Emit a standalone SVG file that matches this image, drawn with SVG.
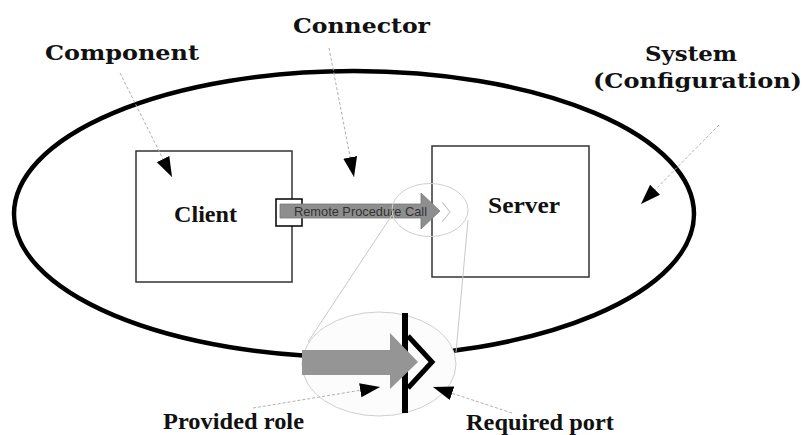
<svg xmlns="http://www.w3.org/2000/svg" width="804" height="435" viewBox="0 0 804 435">
  <style>
    .lbl { font-family: "DejaVu Serif", "Liberation Serif", serif; font-weight: bold; font-size: 21px; fill: #111; }
    .nm { font-family: "Liberation Serif", "Times New Roman", serif; font-weight: bold; font-size: 24px; fill: #111; }
    .sm { font-family: "Liberation Sans", Arial, sans-serif; font-size: 13px; fill: #333; }
    .box { fill: #fff; stroke: #333; stroke-width: 1.5; }
    .leader { fill: none; stroke: #b0b0b0; stroke-width: 1; stroke-dasharray: 3 2; }
    .zoomline { fill: none; stroke: #c8c8c8; stroke-width: 1; }
  </style>
  <defs>
    <marker id="tri" markerUnits="userSpaceOnUse" markerWidth="21" markerHeight="15" refX="20" refY="7" orient="auto" viewBox="0 0 21 15">
      <path d="M0,0 L20,7 L0,14 z" fill="#000"/>
    </marker>
  </defs>
  <rect width="804" height="435" fill="#fff"/>

  <g id="system">
    <ellipse cx="354" cy="214" rx="340" ry="143" fill="none" stroke="#000" stroke-width="4.5"/>
  </g>

  <g id="client">
    <rect class="box" x="136" y="151" width="156" height="131"/>
    <text class="nm" x="174" y="222" textLength="63" lengthAdjust="spacingAndGlyphs">Client</text>
  </g>

  <g id="server">
    <rect class="box" x="432" y="146" width="157" height="131"/>
    <text class="nm" x="488" y="213" textLength="72" lengthAdjust="spacingAndGlyphs">Server</text>
  </g>

  <g id="port">
    <rect x="276" y="199" width="26" height="27" fill="#fff" stroke="#000" stroke-width="1.5"/>
  </g>

  <g id="rpc-connector">
    <path d="M280,204 L421,204 L421,193 L440,211 L421,229 L421,218 L280,218 z" fill="#8e8e8e" stroke="#7a7a7a" stroke-width="0.8"/>
    <text class="sm" x="294" y="216" textLength="133" lengthAdjust="spacingAndGlyphs">Remote Procedure Call</text>
  </g>

  <g id="zoom-small">
    <ellipse cx="430" cy="210" rx="38" ry="26.5" fill="none" stroke="#cfcfcf" stroke-width="1"/>
    <path d="M442,202 L450,212 L442,222" fill="none" stroke="#c8c8c8" stroke-width="1.2"/>
  </g>

  <g id="zoom-lines">
    <path class="zoomline" d="M392,215 L308,342"/>
    <path class="zoomline" d="M468,220 L456,352"/>
  </g>

  <g id="zoom-big">
    <ellipse cx="379" cy="364" rx="77" ry="52" fill="#fcfcfc" stroke="#cfcfcf" stroke-width="1"/>
    <line x1="405" y1="313" x2="405" y2="413" stroke="#000" stroke-width="6"/>
    <path d="M302,350 L390,350 L390,333 L418,362 L390,389 L390,375 L302,375 z" fill="#959595"/>
    <path d="M408,336 L432,362 L408,388" fill="none" stroke="#000" stroke-width="5" stroke-miterlimit="10"/>
  </g>

  <g id="connectors">
    <path class="leader" d="M120,73 L172,177" marker-end="url(#tri)"/>
    <path class="leader" d="M329,48 L354,177" marker-end="url(#tri)"/>
    <path class="leader" d="M719,125 L641,204" marker-end="url(#tri)"/>
    <path class="leader" d="M253,408 L380,387" marker-end="url(#tri)"/>
    <path class="leader" d="M512,413 L433,387" marker-end="url(#tri)"/>
  </g>

  <g id="labels">
    <text class="lbl" x="45" y="60" textLength="154" lengthAdjust="spacingAndGlyphs">Component</text>
    <text class="lbl" x="293" y="33" textLength="137" lengthAdjust="spacingAndGlyphs">Connector</text>
    <text class="lbl" x="645" y="61" textLength="92" lengthAdjust="spacingAndGlyphs">System</text>
    <text class="lbl" x="593" y="88" textLength="209" lengthAdjust="spacingAndGlyphs">(Configuration)</text>
    <text class="nm" x="163" y="429" font-size="23" textLength="141" lengthAdjust="spacingAndGlyphs" style="font-size:23px">Provided role</text>
    <text class="nm" x="466" y="430" textLength="148" lengthAdjust="spacingAndGlyphs" style="font-size:23px">Required port</text>
  </g>
</svg>
